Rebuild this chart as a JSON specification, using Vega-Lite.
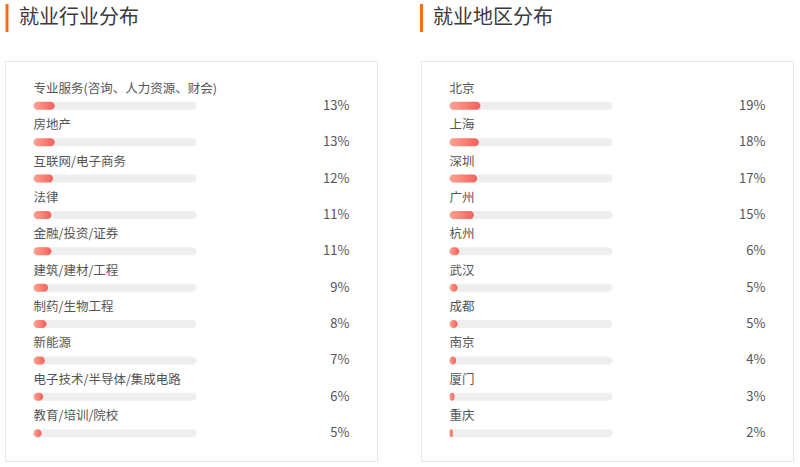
{
  "$schema": "https://vega.github.io/schema/vega-lite/v6.json",
  "padding": {"left": 4, "top": 2, "right": 0, "bottom": 0},
  "background": "#ffffff",
  "spacing": 42,
  "config": {
    "view": {"stroke": "#e6e6e6", "strokeWidth": 1},
    "text": {"font": "Noto Sans CJK SC"}
  },
  "datasets": {
    "industry": [
      {"name": "专业服务(咨询、人力资源、财会)", "value": 0.13, "order": 1, "zero": 0, "full": 1},
      {"name": "房地产", "value": 0.13, "order": 2, "zero": 0, "full": 1},
      {"name": "互联网/电子商务", "value": 0.12, "order": 3, "zero": 0, "full": 1},
      {"name": "法律", "value": 0.11, "order": 4, "zero": 0, "full": 1},
      {"name": "金融/投资/证券", "value": 0.11, "order": 5, "zero": 0, "full": 1},
      {"name": "建筑/建材/工程", "value": 0.09, "order": 6, "zero": 0, "full": 1},
      {"name": "制药/生物工程", "value": 0.08, "order": 7, "zero": 0, "full": 1},
      {"name": "新能源", "value": 0.07, "order": 8, "zero": 0, "full": 1},
      {"name": "电子技术/半导体/集成电路", "value": 0.06, "order": 9, "zero": 0, "full": 1},
      {"name": "教育/培训/院校", "value": 0.05, "order": 10, "zero": 0, "full": 1}
    ],
    "region": [
      {"name": "北京", "value": 0.19, "order": 1, "zero": 0, "full": 1},
      {"name": "上海", "value": 0.18, "order": 2, "zero": 0, "full": 1},
      {"name": "深圳", "value": 0.17, "order": 3, "zero": 0, "full": 1},
      {"name": "广州", "value": 0.15, "order": 4, "zero": 0, "full": 1},
      {"name": "杭州", "value": 0.06, "order": 5, "zero": 0, "full": 1},
      {"name": "武汉", "value": 0.05, "order": 6, "zero": 0, "full": 1},
      {"name": "成都", "value": 0.05, "order": 7, "zero": 0, "full": 1},
      {"name": "南京", "value": 0.04, "order": 8, "zero": 0, "full": 1},
      {"name": "厦门", "value": 0.03, "order": 9, "zero": 0, "full": 1},
      {"name": "重庆", "value": 0.02, "order": 10, "zero": 0, "full": 1}
    ]
  },
  "hconcat": [
    {
      "spacing": 26,
      "vconcat": [
        {
          "width": 372,
          "height": 28,
          "view": {"stroke": null},
          "data": {"values": [{"title": "就业行业分布", "x": 0, "y0": 0, "y1": 1, "ym": 0.5}]},
          "layer": [
            {
              "mark": {"type": "rule", "color": "#ff6a13", "strokeWidth": 3, "xOffset": 2},
              "encoding": {
                "x": {"field": "x", "type": "quantitative", "scale": {"domain": [0, 100]}, "axis": null},
                "y": {"field": "y0", "type": "quantitative", "scale": {"domain": [0, 1]}, "axis": null},
                "y2": {"field": "y1"}
              }
            },
            {
              "mark": {"type": "text", "align": "left", "baseline": "middle", "fontSize": 20, "color": "#3a3a3a", "dx": 14},
              "encoding": {
                "x": {"field": "x", "type": "quantitative"},
                "y": {"field": "ym", "type": "quantitative"},
                "text": {"field": "title", "type": "nominal"}
              }
            }
          ]
        },
        {
          "width": 372,
          "height": 400,
          "data": {"name": "industry"},
          "layer": [
            {
              "mark": {"type": "bar", "height": 8, "cornerRadius": 4, "color": "#eeeeee", "yOffset": 8.5},
              "encoding": {
                "y": {"field": "name", "type": "nominal", "sort": {"field": "order", "op": "min"}, "scale": {"paddingOuter": 0.5, "paddingInner": 0}, "axis": null},
                "x": {"field": "zero", "type": "quantitative", "scale": {"domain": [-0.1748, 2.1074], "nice": false, "zero": false}, "axis": null},
                "x2": {"field": "full"}
              }
            },
            {
              "mark": {"type": "bar", "height": 8, "cornerRadius": 4, "yOffset": 8.5,
                "color": {"gradient": "linear", "x1": 0, "x2": 1, "y1": 0, "y2": 0, "stops": [{"offset": 0, "color": "#ffa392"}, {"offset": 1, "color": "#f5605a"}]}},
              "encoding": {
                "y": {"field": "name", "type": "nominal", "sort": {"field": "order", "op": "min"}},
                "x": {"field": "zero", "type": "quantitative"},
                "x2": {"field": "value"}
              }
            },
            {
              "mark": {"type": "text", "align": "left", "baseline": "middle", "fontSize": 12.5, "color": "#555555", "yOffset": -8.5},
              "encoding": {
                "y": {"field": "name", "type": "nominal", "sort": {"field": "order", "op": "min"}},
                "x": {"field": "zero", "type": "quantitative"},
                "text": {"field": "name", "type": "nominal"}
              }
            },
            {
              "mark": {"type": "text", "align": "right", "baseline": "middle", "fontSize": 13, "color": "#555555", "yOffset": 8.5, "dx": 316},
              "encoding": {
                "y": {"field": "name", "type": "nominal", "sort": {"field": "order", "op": "min"}},
                "x": {"field": "zero", "type": "quantitative"},
                "text": {"field": "value", "type": "quantitative", "format": ".0%"}
              }
            }
          ]
        }
      ]
    },
    {
      "spacing": 26,
      "vconcat": [
        {
          "width": 372,
          "height": 28,
          "view": {"stroke": null},
          "data": {"values": [{"title": "就业地区分布", "x": 0, "y0": 0, "y1": 1, "ym": 0.5}]},
          "layer": [
            {
              "mark": {"type": "rule", "color": "#ff6a13", "strokeWidth": 3, "xOffset": 0.5},
              "encoding": {
                "x": {"field": "x", "type": "quantitative", "scale": {"domain": [0, 100]}, "axis": null},
                "y": {"field": "y0", "type": "quantitative", "scale": {"domain": [0, 1]}, "axis": null},
                "y2": {"field": "y1"}
              }
            },
            {
              "mark": {"type": "text", "align": "left", "baseline": "middle", "fontSize": 20, "color": "#3a3a3a", "dx": 12},
              "encoding": {
                "x": {"field": "x", "type": "quantitative"},
                "y": {"field": "ym", "type": "quantitative"},
                "text": {"field": "title", "type": "nominal"}
              }
            }
          ]
        },
        {
          "width": 372,
          "height": 400,
          "data": {"name": "region"},
          "layer": [
            {
              "mark": {"type": "bar", "height": 8, "cornerRadius": 4, "color": "#eeeeee", "yOffset": 8.5},
              "encoding": {
                "y": {"field": "name", "type": "nominal", "sort": {"field": "order", "op": "min"}, "scale": {"paddingOuter": 0.5, "paddingInner": 0}, "axis": null},
                "x": {"field": "zero", "type": "quantitative", "scale": {"domain": [-0.1748, 2.1074], "nice": false, "zero": false}, "axis": null},
                "x2": {"field": "full"}
              }
            },
            {
              "mark": {"type": "bar", "height": 8, "cornerRadius": 4, "yOffset": 8.5,
                "color": {"gradient": "linear", "x1": 0, "x2": 1, "y1": 0, "y2": 0, "stops": [{"offset": 0, "color": "#ffa392"}, {"offset": 1, "color": "#f5605a"}]}},
              "encoding": {
                "y": {"field": "name", "type": "nominal", "sort": {"field": "order", "op": "min"}},
                "x": {"field": "zero", "type": "quantitative"},
                "x2": {"field": "value"}
              }
            },
            {
              "mark": {"type": "text", "align": "left", "baseline": "middle", "fontSize": 12.5, "color": "#555555", "yOffset": -8.5},
              "encoding": {
                "y": {"field": "name", "type": "nominal", "sort": {"field": "order", "op": "min"}},
                "x": {"field": "zero", "type": "quantitative"},
                "text": {"field": "name", "type": "nominal"}
              }
            },
            {
              "mark": {"type": "text", "align": "right", "baseline": "middle", "fontSize": 13, "color": "#555555", "yOffset": 8.5, "dx": 316},
              "encoding": {
                "y": {"field": "name", "type": "nominal", "sort": {"field": "order", "op": "min"}},
                "x": {"field": "zero", "type": "quantitative"},
                "text": {"field": "value", "type": "quantitative", "format": ".0%"}
              }
            }
          ]
        }
      ]
    }
  ]
}
